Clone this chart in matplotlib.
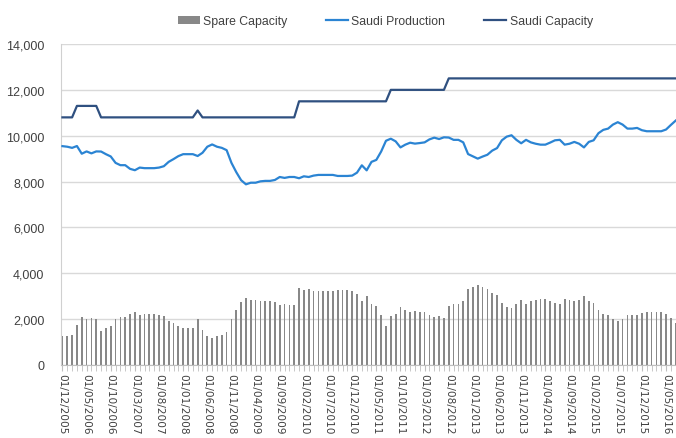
import matplotlib
matplotlib.use("Agg")
import matplotlib.pyplot as plt
from matplotlib.patches import Patch
from matplotlib.lines import Line2D
import numpy as np

# monthly data, Dec 2005 .. Jul 2016 (thousand barrels/day)
spare_capacity = [
    1255, 1280, 1330, 1750, 2085, 1985, 2070, 1985, 1490, 1605,
    1705, 1985, 2085, 2085, 2245, 2305, 2190, 2215, 2215, 2215,
    2190, 2130, 1940, 1820, 1690, 1605, 1605, 1605, 1985, 1545,
    1280, 1180, 1280, 1330, 1430, 1985, 2390, 2740, 2920, 2850,
    2850, 2790, 2770, 2770, 2730, 2600, 2640, 2600, 2600, 3355,
    3270, 3300, 3240, 3210, 3210, 3210, 3210, 3255, 3255, 3255,
    3240, 3110, 2790, 3010, 2640, 2555, 2190, 1720, 2130, 2245,
    2510, 2390, 2305, 2345, 2320, 2290, 2160, 2085, 2145, 2070,
    2580, 2680, 2680, 2790, 3300, 3400, 3500, 3410, 3330, 3150,
    3040, 2700, 2540, 2480, 2680, 2830, 2680, 2790, 2850, 2890,
    2890, 2800, 2700, 2680, 2890, 2850, 2770, 2850, 3010, 2770,
    2700, 2390, 2245, 2190, 2015, 1910, 2015, 2190, 2190, 2160,
    2260, 2305, 2305, 2305, 2305, 2230, 2030, 1840,
]

saudi_production = [
    9545, 9520, 9470, 9550, 9215, 9315, 9230, 9315, 9310, 9195,
    9095, 8815, 8715, 8715, 8555, 8495, 8610, 8585, 8585, 8585,
    8610, 8670, 8860, 8980, 9110, 9195, 9195, 9195, 9115, 9255,
    9520, 9620, 9520, 9470, 9370, 8815, 8410, 8060, 7880, 7950,
    7950, 8010, 8030, 8030, 8070, 8200, 8160, 8200, 8200, 8145,
    8230, 8200, 8260, 8290, 8290, 8290, 8290, 8245, 8245, 8245,
    8260, 8390, 8710, 8490, 8860, 8945, 9310, 9780, 9870, 9755,
    9490, 9610, 9695, 9655, 9680, 9710, 9840, 9915, 9855, 9930,
    9920, 9820, 9820, 9710, 9200, 9100, 9000, 9090, 9170, 9350,
    9460, 9800, 9960, 10020, 9820, 9670, 9820, 9710, 9650, 9610,
    9610, 9700, 9800, 9820, 9610, 9650, 9730, 9650, 9490, 9730,
    9800, 10110, 10255, 10310, 10485, 10590, 10485, 10310, 10310, 10340,
    10240, 10195, 10195, 10195, 10195, 10270, 10470, 10660,
]

saudi_capacity = (
    [10800] * 3 + [11300] * 5 + [10800] * 20 + [11100] + [10800] * 20
    + [11500] * 19 + [12000] * 12 + [12500] * 48
)

tick_labels = [
    "01/12/2005", "01/05/2006", "01/10/2006", "01/03/2007", "01/08/2007",
    "01/01/2008", "01/06/2008", "01/11/2008", "01/04/2009", "01/09/2009",
    "01/02/2010", "01/07/2010", "01/12/2010", "01/05/2011", "01/10/2011",
    "01/03/2012", "01/08/2012", "01/01/2013", "01/06/2013", "01/11/2013",
    "01/04/2014", "01/09/2014", "01/02/2015", "01/07/2015", "01/12/2015",
    "01/05/2016",
]

x = np.arange(len(spare_capacity))

plt.rcParams['font.family'] = ['Liberation Sans', 'DejaVu Sans']

fig = plt.figure(figsize=(6.76, 4.39), dpi=100)
ax = fig.add_axes([61 / 676, 1 - 366 / 439, 615 / 676, 321 / 439])

bar_col = '#888888'
prod_col = '#2b84d3'
cap_col = '#2f5080'

ax.bar(x, spare_capacity, width=0.36, color=bar_col, zorder=2)
ax.plot(x, saudi_production, color=prod_col, lw=1.6, zorder=3)
ax.plot(x, saudi_capacity, color=cap_col, lw=1.6, zorder=4)

ax.set_ylim(0, 14000)
ax.set_xlim(-0.3, 127.06)
ax.set_yticks(range(0, 14001, 2000))
ax.set_yticklabels([f"{v:,}" for v in range(0, 14001, 2000)],
                   fontsize=9, color='#404040')
ax.yaxis.grid(True, color='#d9d9d9', lw=1, zorder=0)
ax.set_axisbelow(True)

ax.set_xticks(x, minor=True)
ax.set_xticks(x[::5])
ax.set_xticklabels(tick_labels, rotation=-90, fontsize=7.6, color='#404040',
                   family='DejaVu Sans', va='top', ha='center')
ax.tick_params(axis='x', which='both', length=4, color='#bfbfbf', pad=2)
ax.tick_params(axis='y', length=0, pad=12)

for s in ['top', 'right']:
    ax.spines[s].set_visible(False)
ax.spines['left'].set_color('#d0d0d0')
ax.spines['bottom'].set_color('#bfbfbf')

handles = [
    Patch(facecolor=bar_col, edgecolor='none'),
    Line2D([], [], color=prod_col, lw=1.6),
    Line2D([], [], color=cap_col, lw=1.6),
]
fig.legend(handles, ["Spare Capacity", "Saudi Production", "Saudi Capacity"],
           loc='center', bbox_to_anchor=(0.57, 0.95), ncol=3, frameon=False,
           fontsize=8.8, handlelength=1.8, handleheight=0.6, handletextpad=0.25,
           columnspacing=3.2, labelcolor='#404040')

fig.savefig('out.png', dpi=100)
